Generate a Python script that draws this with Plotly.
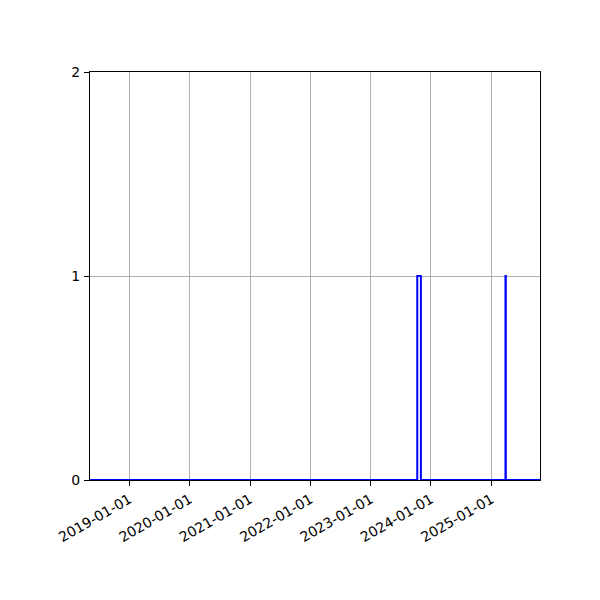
import plotly.graph_objects as go

# --- Data ---
dates = ["2018-05-08", "2023-10-10", "2023-11-01", "2025-03-27", "2025-03-29", "2025-10-22"]
counts = [0, 1, 0, 1, 0, 0]
tick_dates = ["2019-01-01", "2020-01-01", "2021-01-01", "2022-01-01",
              "2023-01-01", "2024-01-01", "2025-01-01"]

fig = go.Figure()
fig.add_trace(go.Scatter(x=dates, y=counts, mode="lines", line_shape="hv",
                         line=dict(color="blue", width=2), showlegend=False))

axis_style = dict(showline=True, linecolor="black", linewidth=1, mirror=True,
                  ticks="outside", ticklen=5, tickcolor="black",
                  showgrid=True, gridcolor="#b0b0b0", gridwidth=1, zeroline=False,
                  tickfont=dict(family="DejaVu Sans", size=14, color="black"))

# page has an 8px body offset, so margins are shifted to line up the plot box
fig.update_layout(
    width=600, height=600,
    margin=dict(l=82, r=68, t=64, b=128),
    plot_bgcolor="white", paper_bgcolor="white",
    xaxis=dict(range=["2018-05-08", "2025-10-22"], tickvals=tick_dates,
               ticktext=tick_dates, tickangle=-30, **axis_style),
    yaxis=dict(range=[0, 2], tickvals=[0, 1, 2], ticklabelstandoff=1, **axis_style),
)

fig.write_html("out.html")
